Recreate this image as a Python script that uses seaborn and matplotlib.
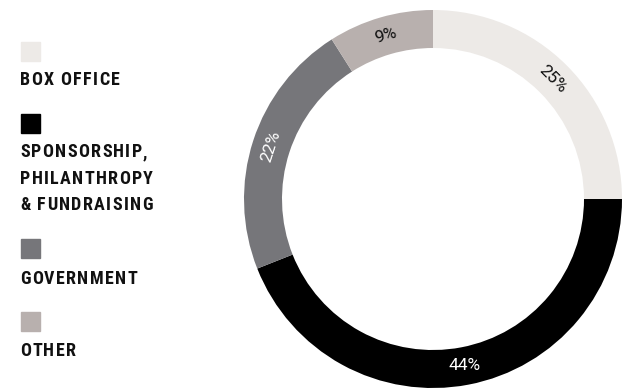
import numpy as np
import matplotlib
matplotlib.use("Agg")
import matplotlib.pyplot as plt
import seaborn as sns
from matplotlib.font_manager import FontProperties, findfont, get_font

# Revenue sources
categories = ["BOX OFFICE", "SPONSORSHIP,\nPHILANTHROPY\n& FUNDRAISING", "GOVERNMENT", "OTHER"]
shares = [25, 44, 22, 9]
slice_colors = ["#edeae7", "#000000", "#76767a", "#b8b0ae"]
label_colors = ["#111111", "#ffffff", "#ffffff", "#111111"]

sns.set_theme(style="white")
plt.rcParams["font.family"] = ["Roboto", "DejaVu Sans"]

W, H = 624, 389
DPI = 100
fig = plt.figure(figsize=(W / DPI, H / DPI), dpi=DPI)
fig.patch.set_facecolor("white")

# Donut
cx, cy, r_out, r_in = 433, 199, 189, 151
ax = fig.add_axes([(cx - r_out) / W, (H - cy - r_out) / H, 2 * r_out / W, 2 * r_out / H])
ring = (r_out - r_in) / r_out
ax.pie(shares, colors=slice_colors, startangle=90, counterclock=False,
       radius=1, wedgeprops=dict(width=ring, edgecolor="none", linewidth=0))
ax.set_xlim(-1, 1)
ax.set_ylim(-1, 1)
ax.set_aspect("equal")
ax.axis("off")

# Percentage labels along the ring (upper half follows the ring, lower half stays level)
total = sum(shares)
start = 0.0
rl = 1 - ring / 2
for val, tc in zip(shares, label_colors):
    mid = (start + val / 2) / total * 360.0  # clockwise from top
    start += val
    theta = np.deg2rad(90 - mid)
    x, y = rl * np.cos(theta), rl * np.sin(theta)
    rot = -mid if not (90 < mid < 270) else 0
    ax.text(x, y, f"{val}%", ha="center", va="center", rotation=rot,
            rotation_mode="anchor", fontsize=12.5, color=tc)

# Legend with tracked (letter-spaced) bold condensed caps
leg_prop = FontProperties(family="Roboto Condensed", weight="bold", size=13)
ft = get_font(findfont(leg_prop))
ft.set_size(leg_prop.get_size_in_points(), DPI)
tracking = 1.35  # px between letters


def tracked_text(x0, yc, s):
    x = x0
    for ch in s:
        adv = ft.load_char(ord(ch)).linearHoriAdvance / 65536.0
        if ch != " ":
            fig.text((x + adv / 2) / W, (H - yc) / H, ch, ha="center", va="center",
                     fontproperties=leg_prop, color="#111111")
        x += adv + tracking


square_centers = [51.5, 123.5, 248.5, 321.5]
text_tops = [73, 145, 272, 344]
sq = 19
for cat, col, sy, ty in zip(categories, slice_colors, square_centers, text_tops):
    fig.patches.append(plt.Rectangle((21 / W, (H - sy - sq / 2) / H), sq / W, sq / H,
                                     transform=fig.transFigure, color=col, figure=fig))
    for i, line in enumerate(cat.split("\n")):
        tracked_text(20, ty + 7 + i * 26.7, line)

fig.savefig("out.png", dpi=DPI, facecolor="white")
